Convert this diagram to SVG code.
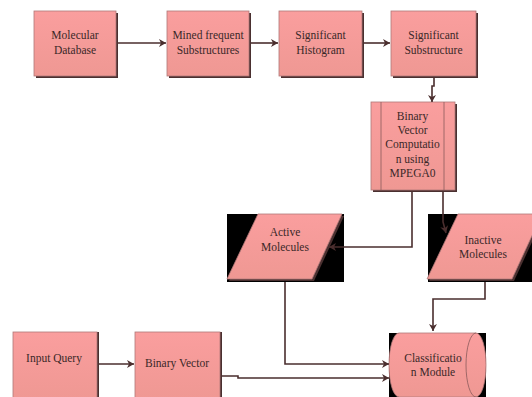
<svg xmlns="http://www.w3.org/2000/svg" width="532" height="397" viewBox="0 0 532 397">
<defs>
<linearGradient id="pk" x1="0" y1="0" x2="0" y2="1">
<stop offset="0" stop-color="#fa9e9e"/>
<stop offset="1" stop-color="#ef9893"/>
</linearGradient>
<marker id="ah" markerWidth="8" markerHeight="8" refX="7" refY="4" orient="auto" markerUnits="userSpaceOnUse">
<path d="M0,0 L7,4 L0,8 L2,4 z" fill="#4a2e2e"/>
</marker>
<style>
.b{fill:url(#pk);stroke:#b07878;stroke-width:0.8}
.sh{fill:#4a3030}
.bk{fill:#000}
.t{font-family:"Liberation Serif","Times New Roman",serif;font-size:11.5px;fill:#3a2828;text-anchor:middle}
.c{fill:none;stroke:#4a2e2e;stroke-width:1.6}
.c2{fill:none;stroke:#4a2e2e;stroke-width:1.6;marker-end:url(#ah)}
.il{stroke:#8a5a5a;stroke-width:0.8;fill:none}
</style>
</defs>
<rect width="532" height="397" fill="#fff"/>

<g id="n1">
<rect class="sh" x="36" y="13" width="82" height="65"/>
<rect class="b" x="34" y="11" width="82" height="65"/>
<text class="t" x="75" y="39">Molecular</text>
<text class="t" x="75" y="54">Database</text>
</g>
<g id="n2">
<rect class="sh" x="169" y="13" width="82" height="65"/>
<rect class="b" x="167" y="11" width="82" height="65"/>
<text class="t" x="208" y="39">Mined frequent</text>
<text class="t" x="208" y="54">Substructures</text>
</g>
<g id="n3">
<rect class="sh" x="281" y="13" width="83" height="65"/>
<rect class="b" x="279" y="11" width="83" height="65"/>
<text class="t" x="320.5" y="39">Significant</text>
<text class="t" x="320.5" y="54">Histogram</text>
</g>
<g id="n4">
<rect class="sh" x="393" y="13" width="85" height="65"/>
<rect class="b" x="391" y="11" width="85" height="65"/>
<text class="t" x="433.5" y="39">Significant</text>
<text class="t" x="433.5" y="54">Substructure</text>
</g>
<g id="n5">
<rect class="sh" x="373" y="104" width="84" height="88"/>
<rect class="b" x="371" y="102" width="84" height="88"/>
<line class="il" x1="381" y1="102" x2="381" y2="190"/>
<line class="il" x1="444" y1="102" x2="444" y2="190"/>
<text class="t" x="412.5" y="120">Binary</text>
<text class="t" x="412.5" y="134">Vector</text>
<text class="t" x="412.5" y="148">Computatio</text>
<text class="t" x="412.5" y="163">n using</text>
<text class="t" x="412.5" y="177">MPEGA0</text>
</g>
<g id="n6">
<rect class="bk" x="227" y="214" width="117" height="68"/>
<polygon class="sh" points="260,216 344,216 314,281 229,281"/>
<polygon class="b" points="258,214 342,214 312,279 227,279"/>
<text class="t" x="285" y="236">Active</text>
<text class="t" x="285" y="251">Molecules</text>
</g>
<g id="n7">
<rect class="bk" x="428" y="214" width="104" height="68"/>
<polygon class="sh" points="460,216 544,216 514,281 429,281"/>
<polygon class="b" points="458,214 542,214 512,279 427,279"/>
<text class="t" x="483" y="244">Inactive</text>
<text class="t" x="483" y="258">Molecules</text>
</g>
<g id="n8">
<rect class="bk" x="389" y="333" width="97" height="64"/>
<path class="b" d="M399,333 L476,333 A10,32 0 0 1 476,397 L399,397 A10,32 0 0 1 399,333 z"/>
<path class="il" d="M476,333 A10,32 0 0 0 476,397"/>
<text class="t" x="433" y="362">Classificatio</text>
<text class="t" x="433" y="376">n Module</text>
</g>
<g id="n9">
<rect class="sh" x="15" y="332" width="84" height="67"/>
<rect class="b" x="13" y="332" width="84" height="67"/>
<text class="t" x="54" y="362">Input Query</text>
</g>
<g id="n10">
<rect class="sh" x="137" y="332" width="85" height="67"/>
<rect class="b" x="135" y="332" width="85" height="67"/>
<text class="t" x="177" y="367">Binary Vector</text>
</g>

<g id="connectors">
<path class="c2" d="M118,43 L166,43"/>
<path class="c2" d="M251,43 L278,43"/>
<path class="c2" d="M364,43 L390,43"/>
<path class="c2" d="M434,78 L434,86 L432,86 L432,102"/>
<path class="c2" d="M412,192 L412,247 L329,247"/>
<path class="c2" d="M443,192 L443,222 L446,233"/>
<path class="c2" d="M285,282 L285,364 L389,364"/>
<path class="c2" d="M485,282 L485,299 L433,299 L433,331"/>
<path class="c2" d="M99,364 L134,364"/>
<path class="c2" d="M222,376 L238,376 L238,378 L389,378"/>
</g>
</svg>
